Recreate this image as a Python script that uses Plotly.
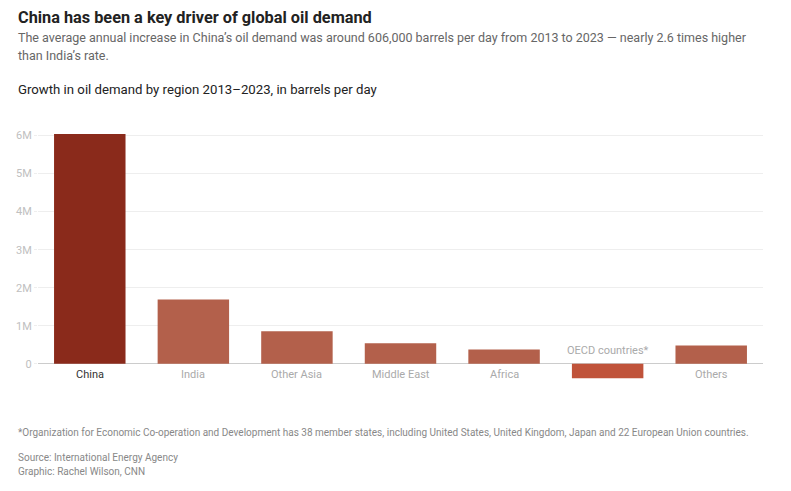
import plotly.graph_objects as go

regions = ["China", "India", "Other Asia", "Middle East", "Africa", "OECD countries*", "Others"]
growth = [6040000, 1690000, 860000, 540000, 380000, -380000, 480000]
bar_colors = ["#8a2a1b", "#b3604b", "#b3604b", "#b3604b", "#b3604b", "#c0533a", "#b3604b"]
label_colors = ["#333333", "#aaaaaa", "#aaaaaa", "#aaaaaa", "#aaaaaa", "#aaaaaa", "#aaaaaa"]
tick_vals = [0, 1000000, 2000000, 3000000, 4000000, 5000000, 6000000]
tick_text = ["0", "1M", "2M", "3M", "4M", "5M", "6M"]

W, H = 791, 491
L, R = 38, 763
TOP, BOT = 125.5, 380.6
FONT = "Roboto"

def px_x(x):
    return (x - L) / (R - L)

def px_y(y):
    return (BOT - y) / (BOT - TOP)

fig = go.Figure()
fig.add_trace(go.Bar(
    x=regions, y=growth, marker=dict(color=bar_colors, line=dict(width=0)),
    hoverinfo="x+y",
))

annotations = []
for r, v, c in zip(regions, growth, label_colors):
    annotations.append(dict(
        x=r, y=0, xref="x", yref="y", text=r, showarrow=False,
        yanchor="middle", yshift=(-11 if v >= 0 else 13),
        font=dict(family=FONT, size=11, color=c),
    ))

texts = [
    ("<b>China has been a key driver of global oil demand</b>", 17, 16.3, "#222222"),
    ("The average annual increase in China\u2019s oil demand was around 606,000 barrels per day from 2013 to 2023 \u2014 nearly 2.6 times higher", 37, 12.5, "#666666"),
    ("than India\u2019s rate.", 55, 12.5, "#666666"),
    ("Growth in oil demand by region 2013\u20132023, in barrels per day", 89, 13.2, "#222222"),
    ("*Organization for Economic Co-operation and Development has 38 member states, including United States, United Kingdom, Japan and 22 European Union countries.", 432, 10, "#888888"),
    ("Source: International Energy Agency", 457, 10, "#888888"),
    ("Graphic: Rachel Wilson, CNN", 471, 10, "#888888"),
]
for t, y, s, c in texts:
    annotations.append(dict(
        x=px_x(16), y=px_y(y), xref="paper", yref="paper", text=t, showarrow=False,
        xanchor="left", yanchor="middle", align="left",
        font=dict(family=FONT, size=s, color=c),
    ))

fig.update_layout(
    width=W, height=H,
    margin=dict(l=L, r=W - R, t=TOP, b=H - BOT, pad=0, autoexpand=False),
    paper_bgcolor="white", plot_bgcolor="white",
    showlegend=False, bargap=0.31,
    annotations=annotations,
    font=dict(family=FONT),
    xaxis=dict(showticklabels=False, showgrid=False, zeroline=False, showline=False,
               ticks="", automargin=False),
    yaxis=dict(
        range=[-450000, 6250000], tickvals=tick_vals, ticktext=tick_text,
        showgrid=True, gridcolor="#eeeeee", gridwidth=1,
        zeroline=True, zerolinecolor="#cccccc", zerolinewidth=1,
        ticks="outside", ticklen=3, tickcolor="#eeeeee",
        tickfont=dict(family=FONT, size=11, color="#c0c0c0"),
        showline=False, automargin=False,
    ),
)

fig.write_html("out.html", config={"displayModeBar": False},
               post_script="document.body.style.margin='0';")
